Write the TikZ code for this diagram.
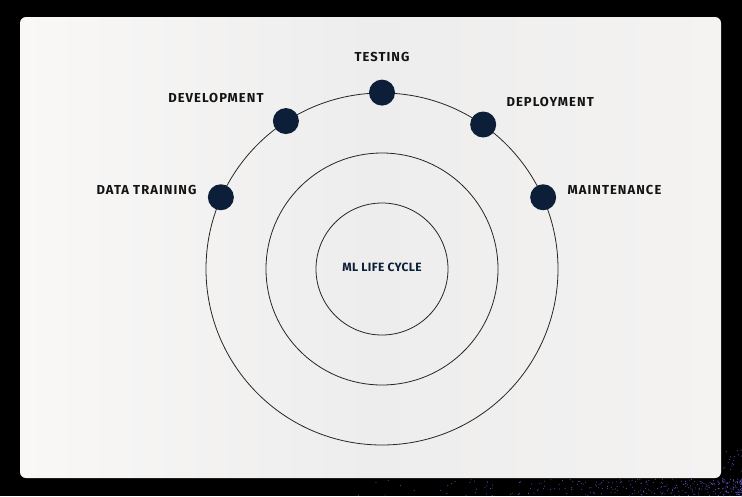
\documentclass[tikz,border=0pt]{standalone}
\usepackage{fontspec}
\usetikzlibrary{positioning}
\newfontfamily\tagfont[LetterSpace=8]{Fira Sans}
\newfontfamily\hubfont[LetterSpace=3]{Fira Sans}
\definecolor{cardLeft}{RGB}{249,248,247}
\definecolor{cardMid}{RGB}{238,237,237}
\definecolor{cardRight}{RGB}{244,243,242}
\definecolor{stageNavy}{RGB}{12,30,56}
\definecolor{speck}{RGB}{104,92,210}

\begin{document}
\begin{tikzpicture}[x=1pt, y=-1pt,
  ring/.style={circle, draw=black!85, line width=0.8pt, inner sep=0pt},
  stage/.style={circle, fill=stageNavy, minimum size=26pt, inner sep=0pt},
  tag/.style={inner sep=0pt, text=black!92, font=\tagfont\bfseries\fontsize{13}{15}\selectfont}]
  \useasboundingbox (0,0) rectangle (742,496);
  \fill[black] (0,0) rectangle (742,496);
  % starry specks under the card
  \pgfmathsetseed{11}
  \foreach \i in {1,...,300}{
    \pgfmathsetmacro\sx{742-400*rnd*rnd}
    \pgfmathsetmacro\sy{479+17*rnd}
    \fill[speck] (\sx,\sy) circle (0.5pt);
  }
  \foreach \i in {1,...,30}{
    \pgfmathsetmacro\sx{722+20*rnd}
    \pgfmathsetmacro\sy{450+45*rnd}
    \fill[speck] (\sx,\sy) circle (0.5pt);
  }
  % card
  \shade[left color=cardLeft, right color=cardRight, middle color=cardMid, rounded corners=6pt]
    (20,17) rectangle (721,478);

  % rings
  \node[ring, minimum size=352pt] (outer) at (382,269) {};
  \node[ring, minimum size=232pt] (middle) at (382,269) {};
  \node[ring, minimum size=132pt] (hub) at (382,269) {};
  \node[text=stageNavy, inner sep=0pt, font=\hubfont\bfseries\fontsize{12}{14}\selectfont]
    (hubtag) at (382,267) {ML LIFE CYCLE};

  % stages on the outer ring
  \node[stage] (testing) at (outer.90) {};
  \node[stage] (development) at (outer.123.5) {};
  \node[stage] (deployment) at (outer.55.5) {};
  \node[stage] (datatraining) at (outer.156) {};
  \node[stage] (maintenance) at (outer.24) {};

  \node[tag, above=17pt of testing] (testingtag) {TESTING};
  \node[tag, left=9pt of development, yshift=23pt] (developmenttag) {DEVELOPMENT};
  \node[tag, right=10pt of deployment, yshift=23pt] (deploymenttag) {DEPLOYMENT};
  \node[tag, left=11pt of datatraining, yshift=7pt] (datatrainingtag) {DATA TRAINING};
  \node[tag, right=11pt of maintenance, yshift=7pt] (maintenancetag) {MAINTENANCE};
\end{tikzpicture}
\end{document}
